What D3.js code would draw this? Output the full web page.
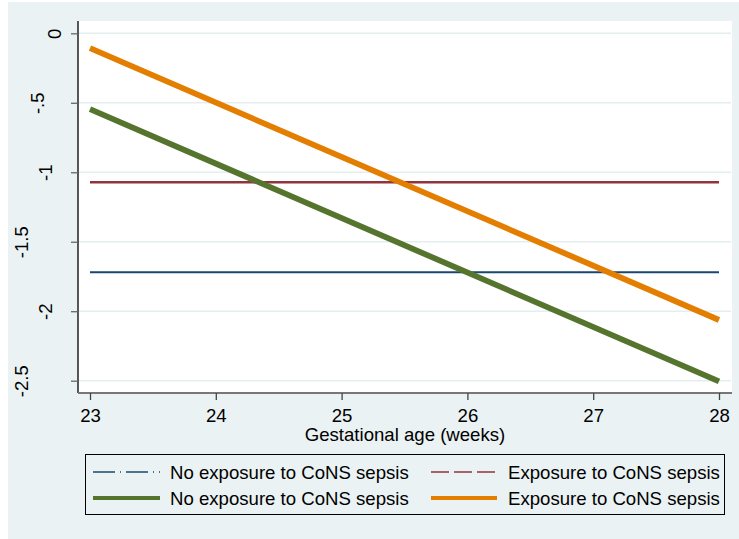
<!DOCTYPE html>
<html><head><meta charset="utf-8">
<script src="https://cdn.jsdelivr.net/npm/d3@7"></script>
<style>html,body{margin:0;padding:0;background:#fff;}svg{display:block;font-family:"Liberation Sans",Arial,sans-serif;}</style>
</head><body>
<svg id="chart" width="739" height="539"></svg>
<script>
const ages = [23, 28];
const xTicks = [23, 24, 25, 26, 27, 28];
const yTicks = [0, -0.5, -1, -1.5, -2, -2.5];
const yTickLabels = ["0", "-.5", "-1", "-1.5", "-2", "-2.5"];
const xLabel = "Gestational age (weeks)";
const seriesNames = ["No exposure to CoNS sepsis", "Exposure to CoNS sepsis", "No exposure to CoNS sepsis", "Exposure to CoNS sepsis"];
const noExposureFlat = [-1.72, -1.72];
const exposureFlat = [-1.072, -1.072];
const noExposureSlope = [-0.546, -2.505];
const exposureSlope = [-0.107, -2.063];

const series = [
  {name: seriesNames[0], values: noExposureFlat, color: "#1a476f", width: 2, legendWidth: 1.4, dash: "22,5,1,5"},
  {name: seriesNames[1], values: exposureFlat, color: "#90353b", width: 2.5, legendWidth: 1.6, dash: "18,5"},
  {name: seriesNames[2], values: noExposureSlope, color: "#55752f", width: 5.8, legendWidth: 4, dash: null},
  {name: seriesNames[3], values: exposureSlope, color: "#e37e00", width: 5.8, legendWidth: 4, dash: null}
];

const svg = d3.select("#chart");
const fontSize = 18.6;
svg.append("rect").attr("x", 8).attr("y", 2).attr("width", 731).attr("height", 537).attr("fill", "#eaf2f3");

const plot = {left: 78, right: 732, top: 21, bottom: 393};
svg.append("rect").attr("x", plot.left).attr("y", plot.top).attr("width", plot.right - plot.left).attr("height", plot.bottom - plot.top).attr("fill", "#fff");

const x = d3.scaleLinear().domain([23, 28]).range([90, 719]);
const y = d3.scaleLinear().domain([0, -2.5]).range([33.3, 380.7]);

// gridlines
svg.append("g").selectAll("line").data(yTicks).join("line")
  .attr("x1", plot.left + 1).attr("x2", plot.right - 1)
  .attr("y1", d => y(d)).attr("y2", d => y(d))
  .attr("stroke", "#e4edf0").attr("stroke-width", 1.5);

// lines
const line = d3.line().x((d, i) => x(ages[i])).y(d => y(d));
svg.append("g").selectAll("path").data(series).join("path")
  .attr("d", d => line(d.values))
  .attr("fill", "none").attr("stroke", d => d.color).attr("stroke-width", d => d.width);

// y axis
const yAxis = svg.append("g").attr("transform", `translate(${plot.left},0)`)
  .call(d3.axisLeft(y).tickValues(yTicks).tickSize(7).tickFormat((d, i) => yTickLabels[i]));
yAxis.select(".domain").attr("d", `M0,${plot.top}V${plot.bottom}`).attr("stroke", "#000").attr("stroke-width", 1.3);
yAxis.selectAll(".tick line").attr("stroke", "#666").attr("stroke-width", 1.3);
yAxis.selectAll(".tick text")
  .attr("font-size", fontSize).attr("font-family", "Liberation Sans, Arial, sans-serif").attr("fill", "#000")
  .attr("text-anchor", "middle").attr("dy", null).attr("x", null).attr("dominant-baseline", "central")
  .each(function() {
    const w = this.getComputedTextLength();
    const cx = 70.5 - 1.53 * w;
    d3.select(this).attr("transform", `translate(${cx - plot.left},0) rotate(-90)`);
  });

// x axis
const xAxis = svg.append("g").attr("transform", `translate(0,${plot.bottom})`)
  .call(d3.axisBottom(x).tickValues(xTicks).tickSize(7).tickFormat(d3.format("d")));
xAxis.select(".domain").attr("d", `M${plot.left},0H${plot.right}`).attr("stroke", "#777").attr("stroke-width", 2);
xAxis.selectAll(".tick line").attr("stroke", "#444").attr("stroke-width", 1.3);
xAxis.selectAll(".tick text").attr("font-size", fontSize).attr("font-family", "Liberation Sans, Arial, sans-serif").attr("fill", "#000")
  .attr("y", 22).attr("dy", "0.35em");

svg.append("text").attr("x", (plot.left + plot.right) / 2).attr("y", 434).attr("dy", "0.35em")
  .attr("text-anchor", "middle").attr("font-size", fontSize).text(xLabel);

// legend
svg.append("rect").attr("x", 85.5).attr("y", 454.5).attr("width", 639).attr("height", 60).attr("fill", "none").attr("stroke", "#000").attr("stroke-width", 1);
const legPos = [
  {sx: 93, ex: 160, tx: 170, y: 472},
  {sx: 431, ex: 497, tx: 508, y: 472},
  {sx: 93, ex: 160, tx: 170, y: 498},
  {sx: 431, ex: 497, tx: 508, y: 498}
];
const leg = svg.append("g").selectAll("g").data(series).join("g");
leg.append("line")
  .attr("x1", (d, i) => legPos[i].sx).attr("x2", (d, i) => legPos[i].ex)
  .attr("y1", (d, i) => legPos[i].y).attr("y2", (d, i) => legPos[i].y)
  .attr("stroke", d => d.color).attr("stroke-width", d => d.legendWidth)
  .attr("stroke-dasharray", d => d.dash);
leg.append("text")
  .attr("x", (d, i) => legPos[i].tx).attr("y", (d, i) => legPos[i].y).attr("dy", "0.35em")
  .attr("font-size", fontSize).attr("fill", "#000").text(d => d.name);
</script>
</body></html>
